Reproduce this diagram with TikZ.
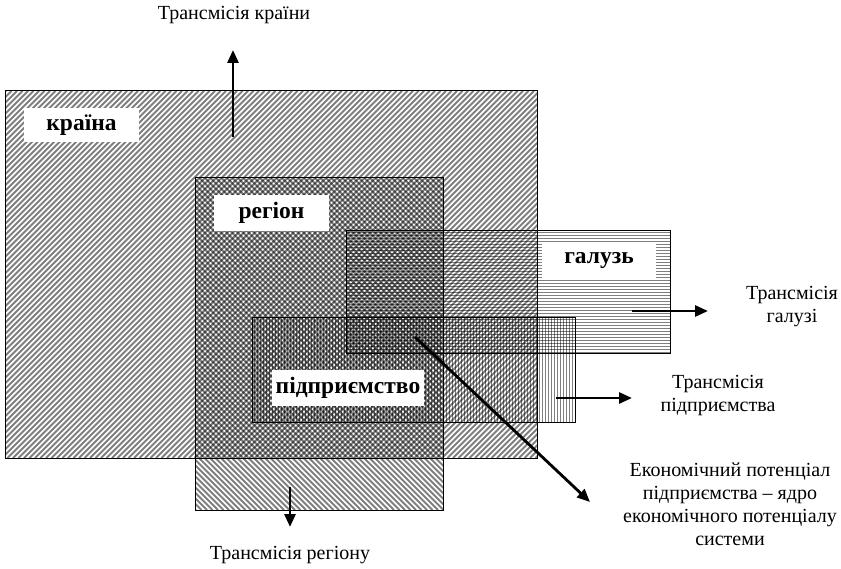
\documentclass[tikz,border=0pt]{standalone}
\usepackage{fontspec}
\setmainfont{Liberation Serif}
\usetikzlibrary{arrows.meta}
\begin{document}
\begin{tikzpicture}[x=1pt,y=-1pt,
  area/.style={draw=black,line width=1pt,inner sep=0pt},
  stripe/.style={draw=black,draw opacity=0.5,line cap=butt},
  lab/.style={fill=white,inner sep=0pt,font=\fontsize{23.5}{28}\selectfont\bfseries},
  captext/.style={font=\fontsize{20}{23}\selectfont,align=center,inner sep=0pt},
  arr/.style={line width=2.8pt,-{Triangle[length=13pt,width=11pt]}}]
\useasboundingbox (0,0) rectangle (841,569);
% area nodes (frames)
\node[minimum width=531pt,minimum height=367pt,inner sep=0pt] (kraina) at (271.5,274.5) {};
\node[minimum width=247pt,minimum height=332pt,inner sep=0pt] (region) at (319.5,344) {};
\node[minimum width=323pt,minimum height=122pt,inner sep=0pt] (galuz) at (508.5,292) {};
\node[minimum width=322pt,minimum height=104pt,inner sep=0pt] (pidpr) at (414,370) {};
% country: "/" stripes
\begin{scope}
\clip (kraina.north west) rectangle (kraina.south east);
\foreach \t in {-367,-361.5,...,531}
  \draw[stripe,line width=1.95pt] (6+\t,458) -- (6+\t+367,91);
\end{scope}
% region: "\" stripes
\begin{scope}
\clip (region.north west) rectangle (region.south east);
\foreach \t in {-332,-326.5,...,247}
  \draw[stripe,line width=1.95pt] (196+\t,178) -- (196+\t+332,510);
\end{scope}
% galuz: horizontal stripes
\begin{scope}
\clip (galuz.north west) rectangle (galuz.south east);
\foreach \t in {232.5,235.5,...,353}
  \draw[stripe,line width=1.5pt] (347,\t) -- (670,\t);
\end{scope}
% pidpryiemstvo: vertical stripes
\begin{scope}
\clip (pidpr.north west) rectangle (pidpr.south east);
\foreach \t in {254.5,257.5,...,575}
  \draw[stripe,line width=1.5pt] (\t,318) -- (\t,422);
\end{scope}
% outlines on top
\draw[area] (kraina.north west) rectangle (kraina.south east);
\draw[area] (region.north west) rectangle (region.south east);
\draw[area] (galuz.north west) rectangle (galuz.south east);
\draw[area] (pidpr.north west) rectangle (pidpr.south east);
% labels
\node[lab,minimum width=115pt,minimum height=34pt] (lk) at (81.5,125) {країна};
\node[lab,minimum width=115pt,minimum height=36pt] (lr) at (271.5,213) {регіон};
\node[lab,minimum width=114pt,minimum height=34pt] (lg) at (599,261) {галузь};
\node[lab,minimum width=152pt,minimum height=36pt] (lp) at (348,388) {підприємство};
% captions
\node[captext] (tk) at (234,15) {Трансмісія країни};
\node[captext] (tr) at (290,555) {Трансмісія регіону};
\node[captext] (tg) at (792,307) {Трансмісія\\галузі};
\node[captext] (tp) at (718,396) {Трансмісія\\підприємства};
\node[captext] (tc) at (730,504) {Економічний потенціал\\підприємства – ядро\\економічного потенціалу\\системи};
% arrow coordinates
\coordinate (ak1) at (233,137); \coordinate (ak2) at (233,50);
\coordinate (ar1) at (290,487); \coordinate (ar2) at (290,527);
\coordinate (ag1) at (632,311); \coordinate (ag2) at (708,311);
\coordinate (ap1) at (556,398); \coordinate (ap2) at (632,398);
\coordinate (ac1) at (415,337); \coordinate (ac2) at (590,502);
\draw[arr] (ak1) -- (ak2);
\draw[arr] (ar1) -- (ar2);
\draw[arr] (ag1) -- (ag2);
\draw[arr] (ap1) -- (ap2);
\draw[arr] (ac1) -- (ac2);
\end{tikzpicture}
\end{document}
